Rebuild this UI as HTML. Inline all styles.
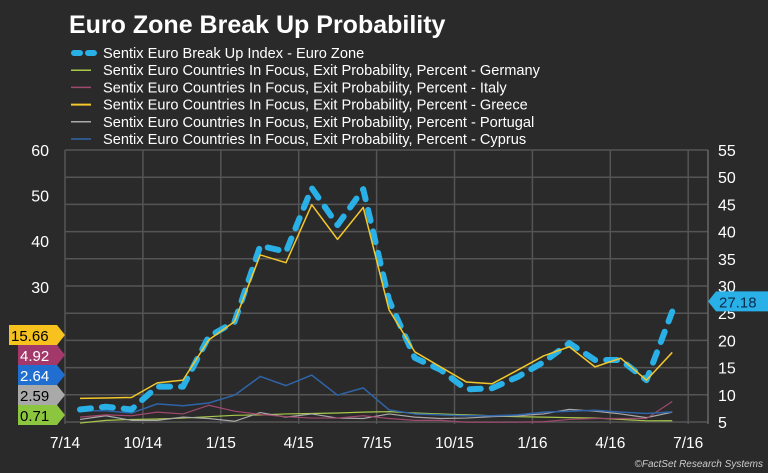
<!DOCTYPE html>
<html><head><meta charset="utf-8"><style>
html,body{margin:0;padding:0;background:#2a2a2a;}
svg{display:block;font-family:"Liberation Sans",Arial,sans-serif;}
</style></head><body>
<svg id="chart" width="768" height="473" viewBox="0 0 768 473">
<rect width="768" height="473" fill="#2a2a2a"/>
<text x="69" y="33" fill="#fff" font-size="25" font-weight="bold">Euro Zone Break Up Probability</text>
<g id="legend"></g>
<g id="grid"></g>
<g id="series"></g>
<g id="axes"></g>
<text x="763" y="467" fill="#ccc" font-size="10" font-style="italic" text-anchor="end">©FactSet Research Systems</text>
</svg>
<script>
const xLabels = ["7/14","10/14","1/15","4/15","7/15","10/15","1/16","4/16","7/16"];
const leftTicks = [30,40,50,60];
const rightTicks = [5,10,15,20,25,30,35,40,45,50,55];
const breakUp = [7.3,7.8,7.3,11.5,11.5,20.7,23.4,37.4,36.3,48,41.2,47.8,27.4,16.8,14.6,11,11.2,13.3,16,19.5,16.4,16.4,12.7,25.3];
const greece = [5.6,5.7,5.8,9.0,9.6,18.4,22.4,37,35.3,48,40.4,47.4,25,15.8,12.5,9.2,8.8,11.8,14.9,16.9,12.5,14.4,9.6,15.66];
const cyprus = [2.9,2.9,2.4,4.4,4.0,4.6,6.3,10.4,8.4,10.7,6.3,7.9,3.1,2.2,2.0,1.8,1.8,2.0,2.6,2.8,3.0,2.6,2.3,2.64];
const italy = [1.5,2.0,1.8,2.6,2.2,4.1,2.8,2.1,1.6,1.3,1.3,1.8,1.2,0.8,0.8,0.4,0.4,0.4,0.5,1.0,1.2,1.2,1.2,4.92];
const germany = [0.2,0.8,1.0,1.1,1.3,1.6,1.9,2.0,2.2,2.3,2.4,2.6,2.7,2.4,2.2,2.0,1.8,1.6,1.5,1.4,1.3,1.0,0.7,0.71];
const portugal = [1.0,1.8,0.8,0.8,1.5,1.2,0.6,2.5,1.5,2.2,1.3,1.2,2.2,1.5,1.2,1.3,1.6,1.8,2.2,3.2,2.8,2.2,1.4,2.59];
const legendLabels = ["Sentix Euro Break Up Index - Euro Zone","Sentix Euro Countries In Focus, Exit Probability, Percent - Germany","Sentix Euro Countries In Focus, Exit Probability, Percent - Italy","Sentix Euro Countries In Focus, Exit Probability, Percent - Greece","Sentix Euro Countries In Focus, Exit Probability, Percent - Portugal","Sentix Euro Countries In Focus, Exit Probability, Percent - Cyprus"];

const NS="http://www.w3.org/2000/svg";
function mk(tag,attrs,parent){const e=document.createElementNS(NS,tag);for(const k in attrs)e.setAttribute(k,attrs[k]);parent.appendChild(e);return e;}
const xTick = i => 65 + i*77.9;
const xPt = i => 80 + i*25.75;
const yL = v => 424 - v*4.57;
const yR = v => 150 + (55-v)*5.44;

const grid=document.getElementById('grid'), axes=document.getElementById('axes'), ser=document.getElementById('series'), leg=document.getElementById('legend');
rightTicks.forEach(t=>{
  const l=mk('line',{x1:65,x2:708,y1:yR(t),y2:yR(t),stroke:'#555','stroke-width':1.5},grid);
  
  
  const tx=mk('text',{x:718,y:yR(t)+6,fill:'#fff','font-size':16},axes);tx.textContent=t;
  
  
});
xLabels.forEach((s,i)=>{
  const l=mk('line',{x1:xTick(i),x2:xTick(i),y1:150,y2:424,stroke:'#555','stroke-width':1.5},grid);
  
  
  const tx=mk('text',{x:xTick(i),y:448,fill:'#fff','font-size':15.5,'text-anchor':'middle'},axes);tx.textContent=s;
  
  
});
mk('line',{x1:708,x2:708,y1:150,y2:424,stroke:'#666','stroke-width':1.5},grid);
leftTicks.forEach(t=>{
  const tx=mk('text',{x:49,y:yL(t)+6,fill:'#fff','font-size':16,'text-anchor':'end'},axes);tx.textContent=t;
  
  
});
function line(data,yf,color,w,dash,name){
  const p=mk('polyline',{points:data.map((v,i)=>xPt(i)+','+yf(v)).join(' '),fill:'none',stroke:color,'stroke-width':w,'stroke-linejoin':'round'},ser);
  if(dash){p.setAttribute('stroke-dasharray',dash);p.setAttribute('stroke-linecap','round');}
  
  
}
line(germany,yL,'#a8c94a',1.2,null,'germany-line');
line(portugal,yL,'#a9a9a9',1.2,null,'portugal-line');
line(italy,yL,'#a0486e',1.2,null,'italy-line');
line(cyprus,yL,'#2f64a8',1.5,null,'cyprus-line');
line(breakUp,yR,'#29b0e6',6,'11 11','break-up-index-line');
line(greece,yL,'#f2c72c',1.5,null,'greece-line');

const legStyles=[['#29b0e6',6,'6 8'],['#a8c94a',1.5,null],['#a0486e',1.5,null],['#f2c72c',2,null],['#a9a9a9',1.5,null],['#2f64a8',1.5,null]];
legendLabels.forEach((s,i)=>{
  const y=53+i*17.2;
  const l=mk('line',{x1:71,x2:91,y1:y,y2:y,stroke:legStyles[i][0],'stroke-width':legStyles[i][1]},leg);
  if(legStyles[i][2]){l.setAttribute('stroke-dasharray',legStyles[i][2]);l.setAttribute('stroke-linecap','round');l.setAttribute('x1',74);l.setAttribute('x2',94);}
  
  
  const tx=mk('text',{x:103,y:y+5,fill:'#fff','font-size':14.6},leg);tx.textContent=s;
  
  
});

const flagVals=[greece[23],italy[23],cyprus[23],portugal[23],germany[23]];
const flagColors=['#f7c21e','#a3396a','#1f6ed0','#a9a9a9','#8cc63f'];
const flagText=['#000','#fff','#fff','#000','#000'];
const flagX=[9,18,18,18,18];
flagVals.forEach((v,i)=>{
  const y=335+i*20, x0=flagX[i], x1=57;
  const g=mk('g',{},axes);
  
  
  mk('polygon',{points:`${x0},${y-10} ${x1},${y-10} ${x1+8},${y} ${x1},${y+10} ${x0},${y+10}`,fill:flagColors[i]},g);
  const tx=mk('text',{x:x0+2,y:y+6,fill:flagText[i],'font-size':15},g);tx.textContent=v.toFixed(2);
});
{
  const y=yR(27.18);
  const g=mk('g',{},axes);
  
  
  mk('polygon',{points:`708,${y} 716,${y-10} 768,${y-10} 768,${y+10} 716,${y+10}`,fill:'#29b0e6'},g);
  const tx=mk('text',{x:719,y:y+6,fill:'#0b2a4a','font-size':15},g);tx.textContent='27.18';
}
</script>
</body></html>
